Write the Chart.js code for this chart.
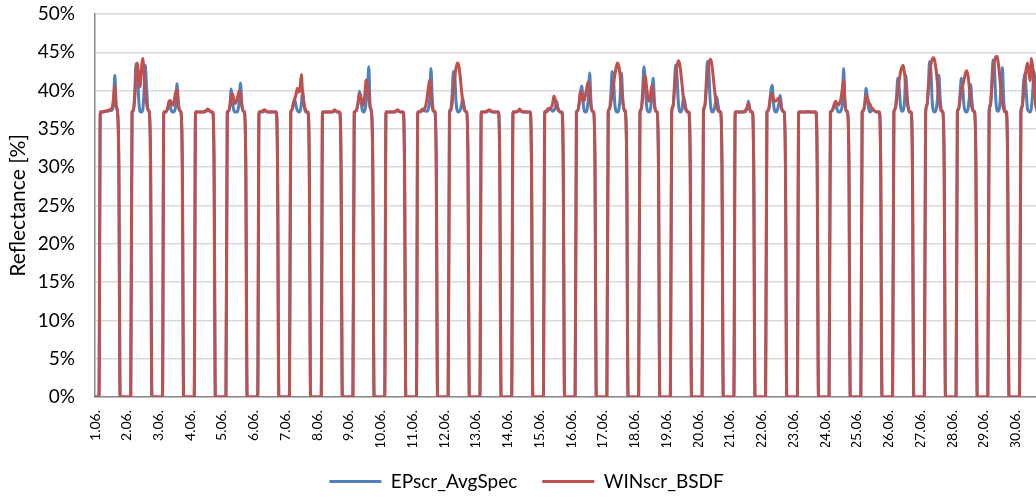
<!DOCTYPE html>
<html>
<head>
<meta charset="utf-8">
<title>Reflectance June</title>
<script src="https://cdn.jsdelivr.net/npm/chart.js@4.4.1/dist/chart.umd.min.js"></script>
<style>
  html, body { margin: 0; padding: 0; background: #fff; overflow: hidden; width: 1036px; height: 500px; }
  #wrap { width: 1054px; height: 500px; }
</style>
</head>
<body>
<div id="wrap"><canvas id="c" width="1054" height="500"></canvas></div>
<script>
// Day labels on the time axis (one per day, at midnight)
const dayLabels = ['1.06.', '2.06.', '3.06.', '4.06.', '5.06.', '6.06.', '7.06.', '8.06.', '9.06.', '10.06.',
  '11.06.', '12.06.', '13.06.', '14.06.', '15.06.', '16.06.', '17.06.', '18.06.', '19.06.', '20.06.',
  '21.06.', '22.06.', '23.06.', '24.06.', '25.06.', '26.06.', '27.06.', '28.06.', '29.06.', '30.06.'];

// Hourly reflectance [%] from 04:00 to 18:00 of each day; other hours are 0 (no daylight)
const firstLitHour = 4;

const epscrAvgSpec = [
  [37.2,37.2,37.2,37.2,37.3,37.3,37.3,37.4,37.4,37.5,38.3,42.0,38.0,37.2,30.5],
  [37.2,37.3,39.5,43.5,43.0,39.0,37.3,37.2,37.4,39.5,43.3,40.5,37.6,37.2,30.5],
  [37.2,37.2,37.3,37.6,38.1,37.8,37.3,37.2,37.3,38.0,40.9,38.6,37.4,37.2,30.5],
  [37.2,37.2,37.2,37.2,37.2,37.2,37.2,37.2,37.3,37.4,37.5,37.3,37.2,37.2,30.5],
  [37.2,37.3,38.0,40.2,38.5,37.4,37.2,37.2,37.4,38.5,41.0,38.3,37.3,37.2,30.5],
  [37.2,37.2,37.2,37.2,37.3,37.3,37.2,37.2,37.2,37.2,37.2,37.2,37.2,37.2,30.5],
  [37.2,37.5,38.4,38.8,38.0,37.4,37.2,37.3,38.2,40.1,38.2,37.3,37.2,37.2,30.5],
  [37.2,37.2,37.2,37.2,37.2,37.2,37.2,37.2,37.2,37.4,37.3,37.2,37.2,37.2,30.5],
  [37.2,37.3,37.6,38.5,39.9,38.8,37.5,37.2,37.4,38.5,40.0,43.1,38.0,37.2,30.5],
  [37.2,37.2,37.2,37.2,37.2,37.2,37.2,37.2,37.3,37.4,37.3,37.2,37.2,37.2,30.5],
  [37.2,37.2,37.3,37.5,37.6,37.5,37.3,37.3,37.6,38.8,42.9,39.0,37.4,37.2,30.5],
  [37.2,37.6,39.5,42.5,42.0,38.5,37.3,37.2,37.4,38.0,39.0,38.0,37.3,37.2,30.5],
  [37.2,37.2,37.2,37.2,37.2,37.3,37.4,37.3,37.2,37.2,37.2,37.2,37.2,37.2,30.5],
  [37.2,37.2,37.2,37.2,37.3,37.4,37.3,37.2,37.2,37.2,37.2,37.2,37.2,37.2,30.5],
  [37.2,37.2,37.3,37.5,37.7,37.5,37.3,37.4,37.8,38.6,37.8,37.3,37.2,37.2,30.5],
  [37.2,37.4,38.2,39.8,40.6,38.5,37.3,37.2,37.5,39.0,42.3,38.5,37.3,37.2,30.5],
  [37.2,37.6,39.5,42.5,41.5,38.3,37.3,37.2,37.5,39.0,42.3,39.0,37.4,37.2,30.5],
  [37.2,37.6,39.8,43.1,41.0,38.0,37.3,37.2,37.6,39.5,41.6,38.5,37.3,37.2,30.5],
  [37.2,37.8,40.5,43.3,42.0,38.5,37.3,37.2,37.8,39.2,38.5,37.5,37.2,37.2,30.5],
  [37.2,37.8,40.5,43.8,43.0,39.0,37.4,37.2,37.5,38.3,39.2,38.2,37.3,37.2,30.5],
  [37.2,37.2,37.2,37.2,37.2,37.2,37.2,37.2,37.3,37.6,38.6,37.6,37.2,37.2,30.5],
  [37.2,37.4,38.3,40.0,40.7,38.3,37.3,37.2,37.5,38.3,39.4,38.0,37.3,37.2,30.5],
  [37.2,37.2,37.2,37.2,37.2,37.2,37.2,37.2,37.2,37.2,37.2,37.2,37.2,37.2,30.5],
  [37.2,37.3,37.6,38.0,38.1,37.6,37.2,37.2,37.4,38.3,42.9,38.5,37.3,37.2,30.5],
  [37.2,37.4,38.3,40.3,39.0,37.6,37.2,37.4,37.6,37.4,37.3,37.2,37.2,37.2,30.5],
  [37.2,37.6,39.3,41.6,40.5,38.0,37.3,37.4,38.5,42.0,39.5,37.6,37.2,37.2,30.5],
  [37.2,38.0,40.5,43.8,42.5,38.5,37.3,37.2,37.6,39.0,42.0,39.0,37.4,37.2,30.5],
  [37.2,37.6,39.5,41.6,40.5,38.0,37.3,37.2,37.6,39.0,40.8,38.6,37.4,37.2,30.5],
  [37.2,38.0,41.0,44.0,43.0,39.0,37.4,37.3,38.0,40.5,43.0,39.0,37.4,37.2,30.5],
  [37.2,38.0,41.0,42.3,40.0,37.6,37.3,37.2,37.8,40.0,42.5,39.0,37.4,37.2,30.5]
];

const winscrBsdf = [
  [37.2,37.2,37.2,37.3,37.3,37.4,37.4,37.5,37.6,37.8,39.0,40.6,38.0,37.2,30.5],
  [37.2,37.4,39.0,42.0,43.6,42.0,40.5,42.5,44.2,42.5,40.0,38.3,37.5,37.2,30.5],
  [37.2,37.2,37.3,37.8,38.6,38.7,38.2,38.1,38.8,39.8,40.1,38.0,37.4,37.2,30.5],
  [37.2,37.2,37.2,37.2,37.2,37.2,37.2,37.3,37.4,37.6,37.5,37.3,37.2,37.2,30.5],
  [37.2,37.3,38.0,39.3,39.6,38.8,38.3,38.6,39.3,39.9,39.5,38.0,37.4,37.2,30.5],
  [37.2,37.2,37.3,37.4,37.5,37.4,37.3,37.2,37.2,37.2,37.2,37.2,37.2,37.2,30.5],
  [37.2,37.5,38.3,38.9,39.5,40.3,39.8,40.2,42.1,39.5,38.3,37.6,37.2,37.2,30.5],
  [37.2,37.2,37.2,37.2,37.2,37.2,37.2,37.2,37.3,37.5,37.4,37.2,37.2,37.2,30.5],
  [37.2,37.3,37.6,38.6,39.6,39.2,38.4,38.1,39.5,41.4,40.5,39.5,37.8,37.2,30.5],
  [37.2,37.2,37.2,37.2,37.2,37.2,37.2,37.3,37.4,37.5,37.3,37.2,37.2,37.2,30.5],
  [37.2,37.2,37.3,37.3,37.4,37.6,38.0,39.0,40.3,41.4,39.5,37.8,37.3,37.2,30.5],
  [37.2,37.4,38.3,40.0,41.8,43.0,43.6,43.3,42.0,40.2,38.6,37.6,37.3,37.2,30.5],
  [37.2,37.2,37.2,37.2,37.3,37.4,37.5,37.4,37.3,37.2,37.2,37.2,37.2,37.2,30.5],
  [37.2,37.2,37.2,37.3,37.4,37.6,37.4,37.3,37.2,37.2,37.2,37.2,37.2,37.2,30.5],
  [37.2,37.3,37.5,37.7,37.6,37.8,38.3,39.3,38.8,38.0,37.5,37.3,37.2,37.2,30.5],
  [37.2,37.4,38.3,39.9,39.6,38.6,38.8,39.6,40.5,41.2,39.8,37.9,37.3,37.2,30.5],
  [37.2,37.6,38.4,39.5,40.8,42.0,43.0,43.6,43.2,42.0,40.3,38.6,37.6,37.2,30.5],
  [37.2,37.5,39.0,41.0,42.0,40.5,39.0,38.6,39.5,40.7,39.5,38.0,37.3,37.2,30.5],
  [37.2,38.0,39.8,41.8,43.2,43.9,43.5,42.2,40.5,38.8,37.8,37.4,37.2,37.2,30.5],
  [37.2,38.0,39.8,42.0,43.4,44.1,43.8,42.5,40.8,39.2,38.0,37.4,37.2,37.2,30.5],
  [37.2,37.2,37.2,37.2,37.2,37.2,37.2,37.3,37.5,37.8,38.3,37.6,37.2,37.2,30.5],
  [37.2,37.4,38.2,39.4,39.6,38.9,38.6,38.7,38.9,39.0,38.5,37.7,37.3,37.2,30.5],
  [37.2,37.2,37.2,37.2,37.2,37.2,37.2,37.3,37.2,37.2,37.2,37.2,37.2,37.2,30.5],
  [37.2,37.3,37.7,38.3,38.6,38.3,38.1,38.4,39.0,40.2,41.4,38.5,37.4,37.2,30.5],
  [37.2,37.4,38.2,39.4,39.0,38.5,38.2,37.8,37.6,37.4,37.3,37.2,37.2,37.2,30.5],
  [37.2,37.6,38.6,40.0,41.3,42.4,43.0,43.3,42.3,40.5,38.6,37.6,37.2,37.2,30.5],
  [37.2,38.2,40.0,42.0,43.4,44.1,44.3,43.8,42.6,40.8,39.0,37.8,37.3,37.2,30.5],
  [37.2,37.6,38.8,40.0,40.6,41.4,42.2,42.6,42.0,40.5,38.8,37.7,37.3,37.2,30.5],
  [37.2,38.2,40.3,42.5,43.8,44.4,44.5,43.5,41.8,39.8,38.4,37.6,37.2,37.2,30.5],
  [37.2,37.8,39.5,41.5,42.8,43.6,42.3,41.3,44.2,43.0,40.5,38.5,37.5,37.2,30.5]
];

// Expand the daily profiles into an hourly series (hour index from 1 June 00:00)
function hourly(days) {
  const pts = [];
  days.forEach((vals, d) => {
    for (let h = 0; h < 24; h++) {
      const i = h - firstLitHour;
      pts.push({ x: d * 24 + h, y: (i >= 0 && i < vals.length) ? vals[i] : 0 });
    }
  });
  return pts;
}

const FONT = 'Lato';
const BLUE = '#4F81BD';
const RED = '#C0504D';

new Chart(document.getElementById('c'), {
  type: 'line',
  data: {
    datasets: [
      { label: 'EPscr_AvgSpec', data: hourly(epscrAvgSpec), borderColor: BLUE, backgroundColor: BLUE, order: 1 },
      { label: 'WINscr_BSDF', data: hourly(winscrBsdf), borderColor: RED, backgroundColor: RED, order: 0 }
    ]
  },
  options: {
    responsive: false,
    animation: false,
    layout: { padding: { top: 0, right: 8, bottom: 0, left: 7 } },
    elements: {
      point: { radius: 0, hoverRadius: 0 },
      line: { borderWidth: 3, cubicInterpolationMode: 'monotone', fill: false }
    },
    scales: {
      x: {
        type: 'linear',
        min: 0,
        max: dayLabels.length * 24 - 1,
        grid: { display: false },
        border: { display: true, color: '#898989', width: 1.5 },
        afterBuildTicks: s => { s.ticks = dayLabels.map((_, i) => ({ value: i * 24 })); },
        afterFit: s => { s.height = 50; },
        ticks: {
          autoSkip: false, minRotation: 90, maxRotation: 90, padding: 5,
          color: '#000', font: { family: FONT, size: 14 },
          callback: v => dayLabels[Math.round(v / 24)]
        }
      },
      y: {
        min: 0, max: 50,
        afterFit: s => { s.width = 88; s.paddingTop = 14; s.paddingBottom = 0; },
        grid: { color: '#d9d9d9', lineWidth: 1.5, drawTicks: false },
        border: { display: true, color: '#898989', width: 1.5 },
        ticks: { stepSize: 5, padding: 20, color: '#000', font: { family: FONT, size: 19 }, callback: v => v + '%' },
        title: { display: true, text: 'Reflectance [%]', color: '#000', font: { family: FONT, size: 21, lineHeight: 1.1 }, padding: { top: 0, bottom: 0 } }
      }
    },
    plugins: {
      tooltip: { enabled: false },
      legend: {
        position: 'bottom',
        maxHeight: 53,
        labels: {
          boxWidth: 52, boxHeight: 3, padding: 25, color: '#000',
          font: { family: FONT, size: 19 },
          sort: (a, b) => a.datasetIndex - b.datasetIndex,
          generateLabels: chart => Chart.defaults.plugins.legend.labels.generateLabels(chart)
            .map(l => Object.assign(l, { lineWidth: 0 }))
        }
      }
    }
  }
});
</script>
</body>
</html>
